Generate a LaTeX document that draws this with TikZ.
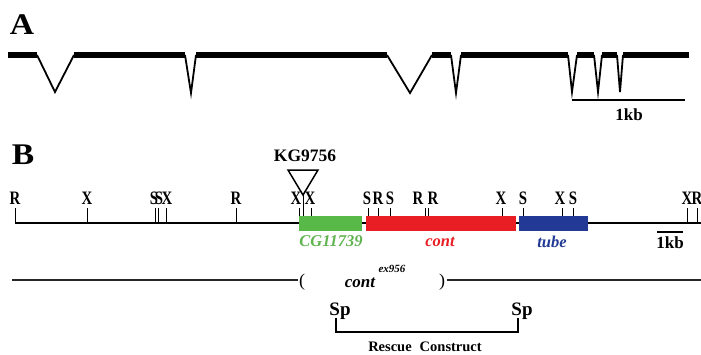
\documentclass[tikz,border=0pt]{standalone}
\usepackage{fontspec}
\setmainfont{Liberation Serif}
\newfontfamily\cond{Liberation Serif}[FakeStretch=0.78]
\newfontfamily\wide{Liberation Serif}[FakeStretch=1.12]
\definecolor{geneGreen}{RGB}{88,184,72}
\definecolor{geneRed}{RGB}{232,30,36}
\definecolor{geneBlue}{RGB}{34,58,150}
\definecolor{lblGreen}{RGB}{96,180,80}
\tikzset{
  panel/.style={font=\wide\bfseries\fontsize{30}{30}\selectfont, inner sep=0},
  exon/.style={line width=5.5pt, line cap=butt},
  intron/.style={line width=1.8pt, line join=miter},
  scalebar/.style={line width=1.6pt},
  baseline/.style={line width=1.3pt},
  sitetick/.style={line width=0.8pt},
  sitelbl/.style={font=\cond\bfseries\fontsize{19}{19}\selectfont, anchor=base, inner sep=0},
  kblbl/.style={font=\bfseries\fontsize{17}{17}\selectfont, inner sep=0},
  genelbl/.style={font=\bfseries\itshape\fontsize{16.5}{16.5}\selectfont, inner sep=0},
  deletion/.style={line width=1.8pt, black!85},
  paren/.style={font=\fontsize{18}{18}\selectfont, inner sep=0},
  bracket/.style={line width=1.2pt}
}
\begin{document}
\begin{tikzpicture}[x=1pt,y=-1pt]
\useasboundingbox (0,0) rectangle (701,354);

% ---------------- panel A: exon/intron structure ----------------
\node[panel] (labA) at (22,25) {A};
\foreach \a/\b in {8/37, 74/185, 196/387, 432/451, 461/568, 577/594, 602/617, 623/689}
  \draw[exon] (\a,55) -- (\b,55);
\foreach \a/\m/\b/\d in {37/55/74/92, 185/191/196/93, 387/410/432/93, 451/456/461/93,
                        568/572/577/92, 594/598/602/92, 617/620/623/92}
  \draw[intron] (\a,55) -- (\m,\d) -- (\b,55);
\coordinate (sbA1) at (572,100);
\coordinate (sbA2) at (685,100);
\draw[scalebar] (sbA1) -- (sbA2);
\node[kblbl] (kbA) at (629,115) {1kb};

% ---------------- panel B: restriction map ----------------
\node[panel] (labB) at (23,155) {B};
\coordinate (mapL) at (15,223);
\coordinate (mapR) at (701,223);
\draw[baseline] (mapL) -- (mapR);

% restriction site ticks
\foreach \x in {15,87,155,158,166,236,299,311,368,378,390,425,428,502,523,562,573,687,697}
  \draw[sitetick] (\x,208) -- (\x,223);

% restriction site letters
\foreach \x/\t [count=\i] in {15/R, 87/X, 154/S, 159/S, 167/X, 236/R, 296/X, 310/X,
                    367/S, 378/R, 390/S, 418/R, 433/R, 501/X, 523/S, 560/X, 573/S, 687/X, 697/R}
  \node[sitelbl] (site\i) at (\x,204) {\t};

% P-element insertion
\node[kblbl, font=\bfseries\fontsize{17.5}{17.5}\selectfont] (kg) at (305,156) {KG9756};
\coordinate (triL) at (288,170);
\coordinate (triR) at (318,170);
\coordinate (triT) at (303,195);
\coordinate (insB) at (303,216);
\draw[line width=1.5pt, line join=miter] (triL) -- (triR) -- (triT) -- cycle;
\draw[sitetick] (triT) -- (insB);

% genes
\fill[geneGreen] (299,216) rectangle (362,231);
\fill[geneRed] (366,216) rectangle (516,231);
\fill[geneBlue] (519,216) rectangle (588,231);
\node[genelbl, text=lblGreen] (gCG) at (331,241) {CG11739};
\node[genelbl, text=geneRed] (gCont) at (440,242) {cont};
\node[genelbl, text=geneBlue] (gTube) at (552,242) {tube};

% scale bar
\coordinate (sbB1) at (657,232);
\coordinate (sbB2) at (683,232);
\draw[line width=1.2pt] (sbB1) -- (sbB2);
\node[kblbl] (kbB) at (670,243) {1kb};

% deletion allele
\coordinate (delL1) at (12,280);
\coordinate (delL2) at (298,280);
\coordinate (delR1) at (447,280);
\coordinate (delR2) at (701,280);
\draw[deletion] (delL1) -- (delL2);
\draw[deletion] (delR1) -- (delR2);
\node[paren] (pL) at (302,282) {(};
\node[paren] (pR) at (442,282) {)};
\node[genelbl, font=\bfseries\itshape\fontsize{17}{17}\selectfont] (exName) at (360,283) {cont};
\node[genelbl, font=\bfseries\itshape\fontsize{11}{11}\selectfont] (exSup) at (392,269) {ex956};

% rescue construct
\node[kblbl, font=\bfseries\fontsize{19}{19}\selectfont] (spL) at (340,311) {Sp};
\node[kblbl, font=\bfseries\fontsize{19}{19}\selectfont] (spR) at (522,311) {Sp};
\coordinate (brL) at (336,318);
\coordinate (brR) at (518,318);
\draw[bracket] (brL) -- (336,332) -- (518,332) -- (brR);
\node[kblbl, font=\bfseries\fontsize{14.5}{14.5}\selectfont] (rescue) at (425,347) {Rescue\hspace{8pt}Construct};
\end{tikzpicture}
\end{document}
